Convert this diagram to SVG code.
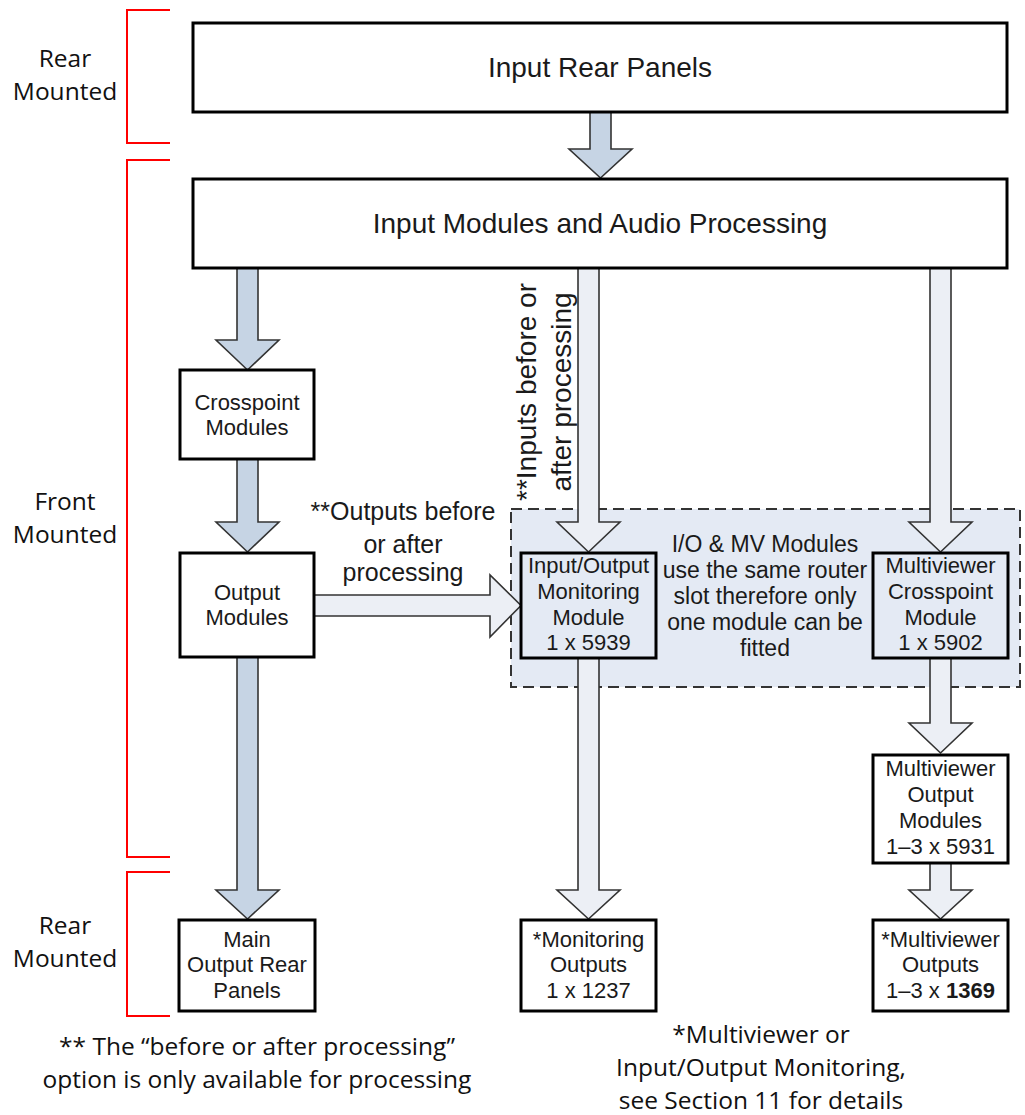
<svg xmlns="http://www.w3.org/2000/svg" width="1025" height="1115" viewBox="0 0 1025 1115">
  <style>
    .box { fill: #ffffff; stroke: #000000; stroke-width: 3; }
    .box-in { fill: #e4eaf4; stroke: #000000; stroke-width: 3; }
    .big { font-family: "Liberation Sans", Arial, sans-serif; font-size: 28px; fill: #1a1a1a; text-anchor: middle; }
    .lbl { font-family: "Liberation Sans", Arial, sans-serif; font-size: 22px; fill: #1a1a1a; text-anchor: middle; }
    .mid { font-family: "Liberation Sans", Arial, sans-serif; font-size: 23px; fill: #1a1a1a; text-anchor: middle; }
    .note { font-family: "Liberation Sans", Arial, sans-serif; font-size: 25px; fill: #1a1a1a; text-anchor: middle; }
    .side { font-family: "Open Sans", "Noto Sans", sans-serif; font-size: 24.5px; fill: #111111; text-anchor: middle; }
    .bracket { fill: none; stroke: #ff0000; stroke-width: 2; }
    .arr-main { fill: #c6d4e4; stroke: #333333; stroke-width: 1.6; stroke-linejoin: miter; }
    .arr-opt { fill: #eceff5; stroke: #333333; stroke-width: 1.6; stroke-linejoin: miter; }
    .slot { fill: #e4eaf4; stroke: #333333; stroke-width: 2; stroke-dasharray: 11 6; }
  </style>

  <!-- mounting brackets and their labels -->
  <g id="mounting">
    <path class="bracket" d="M170,10 H127 V143 H170"/>
    <path class="bracket" d="M170,160 H127 V857 H170"/>
    <path class="bracket" d="M170,872 H127 V1016 H170"/>
    <text class="side" x="65" y="67">Rear</text>
    <text class="side" x="65" y="100">Mounted</text>
    <text class="side" x="65" y="510">Front</text>
    <text class="side" x="65" y="543">Mounted</text>
    <text class="side" x="65" y="934">Rear</text>
    <text class="side" x="65" y="967">Mounted</text>
  </g>

  <!-- shared router slot region -->
  <g id="shared-slot">
    <rect class="slot" x="511" y="509" width="509" height="178"/>
    <text class="mid" x="765" y="552">I/O &amp; MV Modules</text>
    <text class="mid" x="765" y="578">use the same router</text>
    <text class="mid" x="765" y="604">slot therefore only</text>
    <text class="mid" x="765" y="630">one module can be</text>
    <text class="mid" x="765" y="656">fitted</text>
  </g>

  <!-- connectors: block arrows -->
  <g id="connectors">
    <polygon class="arr-main" points="590,112 611,112 611,149 632,149 600.5,178 569,149 590,149"/>
    <polygon class="arr-main" points="237,268 258,268 258,340 279,340 247.5,370 216,340 237,340"/>
    <polygon class="arr-main" points="237,459 258,459 258,522 279,522 247.5,552 216,522 237,522"/>
    <polygon class="arr-main" points="237,657 258,657 258,890 279,890 247.5,919 216,890 237,890"/>
    <polygon class="arr-opt" points="578,268 599,268 599,522 620,522 588.5,552 557,522 578,522"/>
    <polygon class="arr-opt" points="930,268 951,268 951,522 972,522 940.5,552 909,522 930,522"/>
    <polygon class="arr-opt" points="578,658 599,658 599,890 620,890 588.5,919 557,890 578,890"/>
    <polygon class="arr-opt" points="930,658 951,658 951,723 972,723 940.5,753 909,723 930,723"/>
    <polygon class="arr-opt" points="930,863 951,863 951,890 972,890 940.5,919 909,890 930,890"/>
    <polygon class="arr-opt" points="314,595 490,595 490,575 521,605.5 490,637 490,616 314,616"/>
    <text class="note" x="403" y="520">**Outputs before</text>
    <text class="note" x="403" y="553">or after</text>
    <text class="note" x="403" y="581">processing</text>
    <text class="big" transform="translate(536,392) rotate(-90)">**Inputs before or</text>
    <text class="big" transform="translate(571,392) rotate(-90)">after processing</text>
  </g>

  <g id="input-rear-panels">
    <rect class="box" x="193" y="23" width="814" height="89"/>
    <text class="big" x="600" y="77">Input Rear Panels</text>
  </g>

  <g id="input-modules">
    <rect class="box" x="193" y="179" width="814" height="89"/>
    <text class="big" x="600" y="233">Input Modules and Audio Processing</text>
  </g>

  <g id="crosspoint-modules">
    <rect class="box" x="180" y="370" width="134" height="89"/>
    <text class="lbl" x="247" y="410">Crosspoint</text>
    <text class="lbl" x="247" y="435">Modules</text>
  </g>

  <g id="output-modules">
    <rect class="box" x="180" y="553" width="134" height="104"/>
    <text class="lbl" x="247" y="600">Output</text>
    <text class="lbl" x="247" y="625">Modules</text>
  </g>

  <g id="main-output-rear-panels">
    <rect class="box" x="179" y="920" width="136" height="91"/>
    <text class="lbl" x="247" y="947">Main</text>
    <text class="lbl" x="247" y="972">Output Rear</text>
    <text class="lbl" x="247" y="998">Panels</text>
  </g>

  <g id="io-monitoring-module">
    <rect class="box-in" x="521" y="553" width="135" height="105"/>
    <text class="lbl" x="588.5" y="573">Input/Output</text>
    <text class="lbl" x="588.5" y="599">Monitoring</text>
    <text class="lbl" x="588.5" y="625">Module</text>
    <text class="lbl" x="588.5" y="650">1 x 5939</text>
  </g>

  <g id="monitoring-outputs">
    <rect class="box" x="521" y="920" width="135" height="91"/>
    <text class="lbl" x="588.5" y="947">*Monitoring</text>
    <text class="lbl" x="588.5" y="972">Outputs</text>
    <text class="lbl" x="588.5" y="998">1 x 1237</text>
  </g>

  <g id="mv-crosspoint-module">
    <rect class="box-in" x="873" y="553" width="135" height="105"/>
    <text class="lbl" x="940.5" y="573">Multiviewer</text>
    <text class="lbl" x="940.5" y="599">Crosspoint</text>
    <text class="lbl" x="940.5" y="625">Module</text>
    <text class="lbl" x="940.5" y="650">1 x 5902</text>
  </g>

  <g id="mv-output-modules">
    <rect class="box" x="873" y="755" width="135" height="108"/>
    <text class="lbl" x="940.5" y="776">Multiviewer</text>
    <text class="lbl" x="940.5" y="802">Output</text>
    <text class="lbl" x="940.5" y="828">Modules</text>
    <text class="lbl" x="940.5" y="854">1–3 x 5931</text>
  </g>

  <g id="mv-outputs">
    <rect class="box" x="873" y="920" width="135" height="91"/>
    <text class="lbl" x="940.5" y="947">*Multiviewer</text>
    <text class="lbl" x="940.5" y="972">Outputs</text>
    <text class="lbl" x="940.5" y="998">1–3 x <tspan font-weight="bold">1369</tspan></text>
  </g>

  <!-- footnotes -->
  <g id="footnotes">
    <text class="side" x="257" y="1055">** The “before or after processing”</text>
    <text class="side" x="257" y="1088">option is only available for processing</text>
    <text class="side" x="761" y="1043">*Multiviewer or</text>
    <text class="side" x="761" y="1076">Input/Output Monitoring,</text>
    <text class="side" x="761" y="1109">see Section 11 for details</text>
  </g>
</svg>
